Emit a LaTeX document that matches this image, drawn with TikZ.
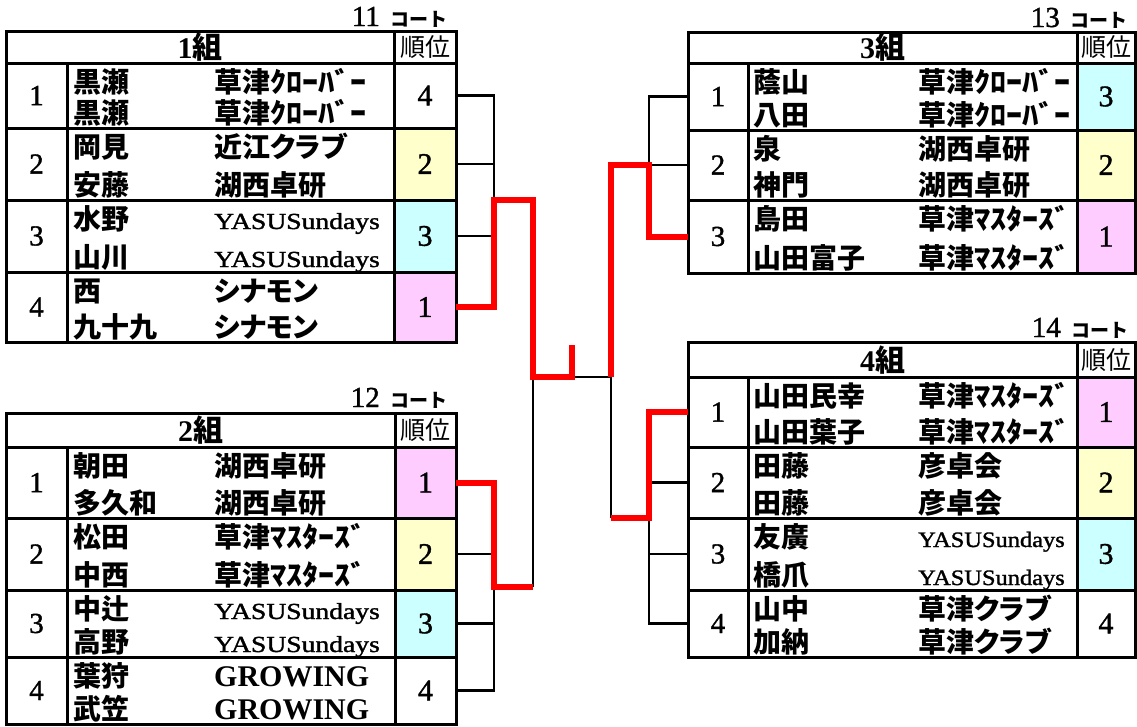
\documentclass[tikz,border=0pt]{standalone}
\usepackage{fontspec}
\setmainfont{Liberation Serif}
\newfontfamily\dig[FakeBold=1.3]{Liberation Serif}
\newfontfamily\cjk{Noto Sans CJK JP}
\newfontfamily\cjkp[RawFeature=+palt]{Noto Sans CJK JP}
\definecolor{rk1}{HTML}{FFCCFF}
\definecolor{rk2}{HTML}{FFFFCC}
\definecolor{rk3}{HTML}{CCFFFF}
\definecolor{rk4}{HTML}{FFFFFF}
\definecolor{linkred}{HTML}{FF0000}
\tikzset{
  tb/.style={line width=3pt, line join=miter, black},
  bk/.style={line width=2.6pt, black},
  rd/.style={line width=6pt, linkred},
  rankcell/.style={inner sep=0pt, outer sep=0pt, font=\dig\fontsize{30}{30}\selectfont},
  numcell/.style={inner sep=0pt, outer sep=0pt, font=\dig\fontsize{29}{29}\selectfont},
  nm/.style={anchor=base west, inner sep=0pt, font=\cjk\bfseries\fontsize{28}{28}\selectfont},
  tm/.style={anchor=base west, inner sep=0pt, font=\cjkp\bfseries\fontsize{28}{28}\selectfont},
  hdr/.style={inner sep=0pt, font=\bfseries\fontsize{30}{30}\selectfont},
  jun/.style={inner sep=0pt, font=\cjk\fontsize{25}{25}\selectfont},
  court/.style={anchor=base east, inner sep=0pt, font=\dig\fontsize{29}{29}\selectfont},
}
\newcommand\hw[1]{\scalebox{1.15}[1]{#1}}
\newcommand\yasuL{{\dig\mdseries\fontsize{23}{23}\selectfont\scalebox{1.2}[1]{YASUSundays}}}
\newcommand\yasuR{{\dig\mdseries\fontsize{22}{22}\selectfont\scalebox{1.11}[1]{YASUSundays}}}
\newcommand\grow{{\rmfamily\bfseries\fontsize{30}{30}\selectfont GROWING}}
\newcommand\kote{\hspace{11pt}{\cjk\bfseries\fontsize{19}{19}\selectfont コート}}
\newcommand\trow[9]{%
  \node[rankcell, fill=rk#9, minimum width={\trr-\trl}, minimum height={#3-#2}] (#1r) at ({(\trl+\trr)/2},{(#2+#3)/2}) {#9};
  \node[numcell, minimum width={\tnum-\tx}, minimum height={#3-#2}] (#1n) at ({(\tx+\tnum)/2},{(#2+#3)/2}) {#4};
  \node[nm] (#1a) at (\tname,{#2+29}) {#5};
  \node[tm] (#1b) at (\tteam,{#2+29}) {#6};
  \node[nm] (#1c) at (\tname,{#3-5}) {#7};
  \node[tm] (#1d) at (\tteam,{#3-5}) {#8};
}
\begin{document}
\begin{tikzpicture}[x=1pt,y=-1pt]
\useasboundingbox[fill=white] (0,0) rectangle (1137,726);

% ---------- left tables ----------
\def\tx{6}\def\tnum{67}\def\tname{73}\def\tteam{214}\def\trl{394}\def\trr{456}
% Table 1
\trow{a1}{63}{128}{1}{黒瀬}{草津\hw{ｸﾛｰﾊﾞｰ}}{黒瀬}{草津\hw{ｸﾛｰﾊﾞｰ}}{4}
\trow{a2}{128}{200}{2}{岡見}{近江クラブ}{安藤}{湖西卓研}{2}
\trow{a3}{200}{272}{3}{水野}{\yasuL}{山川}{\yasuL}{3}
\trow{a4}{272}{342}{4}{西}{シナモン}{九十九}{シナモン}{1}
\node[hdr] (a0) at (200,47) {1{\cjk 組}};
\node[jun] (a0r) at (425,47) {順位};
\node[court] (a0c) at (448,26) {11\kote};
\draw[tb] (6,31) rectangle (456,342);
\draw[tb] (6,63) -- (456,63) (6,128) -- (456,128) (6,200) -- (456,200) (6,272) -- (456,272);
\draw[tb] (67,63) -- (67,342) (394,31) -- (394,342);

% Table 2
\def\trl{395}
\trow{b1}{447}{518}{1}{朝田}{湖西卓研}{多久和}{湖西卓研}{1}
\trow{b2}{518}{590}{2}{松田}{草津\hw{ﾏｽﾀｰｽﾞ}}{中西}{草津\hw{ﾏｽﾀｰｽﾞ}}{2}
\trow{b3}{590}{657}{3}{中辻}{\yasuL}{高野}{\yasuL}{3}
\trow{b4}{657}{724}{4}{葉狩}{\grow}{武笠}{\grow}{4}
\node[hdr] (b0) at (200.5,430) {2{\cjk 組}};
\node[jun] (b0r) at (425.5,430) {順位};
\node[court] (b0c) at (448,407) {12\kote};
\draw[tb] (6,413) rectangle (456,724);
\draw[tb] (6,447) -- (456,447) (6,518) -- (456,518) (6,590) -- (456,590) (6,657) -- (456,657);
\draw[tb] (67,447) -- (67,724) (395,413) -- (395,724);

% ---------- right tables ----------
\def\tx{688}\def\tnum{748}\def\tname{753}\def\tteam{918}\def\trl{1077}\def\trr{1135}
% Table 3
\trow{c1}{63}{130}{1}{蔭山}{草津\hw{ｸﾛｰﾊﾞｰ}}{八田}{草津\hw{ｸﾛｰﾊﾞｰ}}{3}
\trow{c2}{130}{200}{2}{泉}{湖西卓研}{神門}{湖西卓研}{2}
\trow{c3}{200}{273}{3}{島田}{草津\hw{ﾏｽﾀｰｽﾞ}}{山田富子}{草津\hw{ﾏｽﾀｰｽﾞ}}{1}
\node[hdr] (c0) at (882.5,47) {3{\cjk 組}};
\node[jun] (c0r) at (1106,47) {順位};
\node[court] (c0c) at (1128,27) {13\kote};
\draw[tb] (688,32) rectangle (1135,273);
\draw[tb] (688,63) -- (1135,63) (688,130) -- (1135,130) (688,200) -- (1135,200);
\draw[tb] (748,63) -- (748,273) (1077,32) -- (1077,273);

% Table 4
\trow{d1}{377}{447}{1}{山田民幸}{草津\hw{ﾏｽﾀｰｽﾞ}}{山田葉子}{草津\hw{ﾏｽﾀｰｽﾞ}}{1}
\trow{d2}{447}{518}{2}{田藤}{彦卓会}{田藤}{彦卓会}{2}
\trow{d3}{518}{590}{3}{友廣}{\yasuR}{橋爪}{\yasuR}{3}
\trow{d4}{590}{657}{4}{山中}{草津クラブ}{加納}{草津クラブ}{4}
\node[hdr] (d0) at (882.5,360) {4{\cjk 組}};
\node[jun] (d0r) at (1106,360) {順位};
\node[court] (d0c) at (1129,337) {14\kote};
\draw[tb] (688,342) rectangle (1135,657);
\draw[tb] (688,377) -- (1135,377) (688,447) -- (1135,447) (688,518) -- (1135,518) (688,590) -- (1135,590);
\draw[tb] (748,377) -- (748,657) (1077,342) -- (1077,657);

% ---------- bracket ----------
\coordinate (j1) at (494,200);
\coordinate (fl) at (533,377);
\coordinate (ch) at (572,377);
\coordinate (cht) at (572,345);
\coordinate (fr) at (611,377);
\coordinate (j2) at (494,587);
\coordinate (o2) at (533,587);
\coordinate (j3) at (649,165);
\coordinate (j4) at (649,518);
\coordinate (o4) at (611,518);

\draw[bk] (a1r.east) -| (j1);
\draw[bk] (a2r.east) -- (a2r.east -| j1);
\draw[bk] (a3r.east) -- (a3r.east -| j1);
\draw[bk] (ch) -- (fr);
\draw[bk] (o2) -- (fl);
\draw[bk] (b2r.east) -- (b2r.east -| j2);
\draw[bk] (b3r.east) -- (b3r.east -| j2);
\draw[bk] (b4r.east) -| (j2);
\draw[bk] (c1n.west) -| (j3);
\draw[bk] (c2n.west) -- (j3);
\draw[bk] (o4) -- (fr);
\draw[bk] (d2n.west) -- (d2n.west -| j4);
\draw[bk] (d3n.west) -- (d3n.west -| j4);
\draw[bk] (d4n.west) -| (j4);

\draw[rd] (a4r.east) -| (j1) -| (fl) -- (ch) -- (cht);
\draw[rd] (b1r.east) -| (j2) -- (o2);
\draw[rd] (c3n.west) -| (j3) -| (fr);
\draw[rd] (d1n.west) -| (j4) -- (o4);
\end{tikzpicture}
\end{document}
